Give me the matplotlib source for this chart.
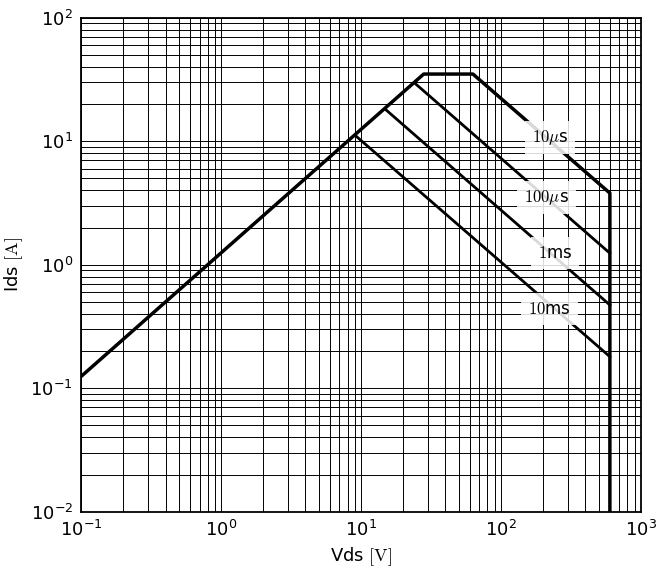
import numpy as np
import matplotlib
matplotlib.use("Agg")
import matplotlib.pyplot as plt

plt.rcParams['mathtext.fontset'] = 'cm'
plt.rcParams['font.family'] = ['DejaVu Sans']

# SOA outline (DC / 10us limit)
soa_v = [0.1, 28, 63, 600, 600]
soa_i = [0.125, 35, 35, 3.8, 0.01]

# pulse limits
pulse_lines = {
    "100us": ([24.3, 600], [29.4, 1.24]),
    "1ms": ([15.1, 600], [17.9, 0.472]),
    "10ms": ([9.2, 600], [11.0, 0.18]),
}

label_texts = [r"$10\mu$s", r"$100\mu$s", r"$1$ms", r"$10$ms"]
label_v = [224, 212, 243, 221]
label_i = [10.7, 3.5, 1.25, 0.44]

fig = plt.figure(figsize=(6.56, 5.73), dpi=100)
ax = fig.add_axes([0.124, 0.107, 0.853, 0.862])

ax.plot(soa_v, soa_i, color='k', lw=2.5, zorder=3)
for key, (v, i) in pulse_lines.items():
    ax.plot(v, i, color='k', lw=2, zorder=3)

for txt, x, y in zip(label_texts, label_v, label_i):
    ax.text(x, y, txt, ha='center', va='center', fontsize=12, zorder=4,
            bbox=dict(facecolor='white', edgecolor='none', alpha=0.85, pad=5))

ax.set_xscale('log')
ax.set_yscale('log')
ax.set_xlim(0.1, 1000)
ax.set_ylim(0.01, 100)
ax.grid(True, which='both', color='k', lw=0.7, ls='-')
ax.set_axisbelow(True)
ax.tick_params(which='both', length=0, labelsize=13, pad=6)
for sp in ax.spines.values():
    sp.set_linewidth(1.3)

ax.set_xlabel(r"Vds $\mathrm{[V]}$", fontsize=13)
ax.set_ylabel(r"Ids $\mathrm{[A]}$", fontsize=13)

fig.savefig("out.png", dpi=100)
